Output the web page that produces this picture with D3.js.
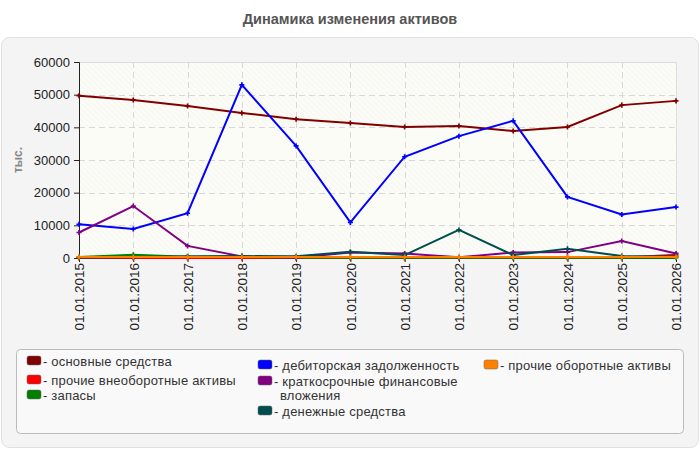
<!DOCTYPE html>
<html><head><meta charset="utf-8">
<script src="https://cdn.jsdelivr.net/npm/d3@7"></script>
<style>body{margin:0;background:#fff;font-family:"Liberation Sans",Arial,sans-serif}</style>
</head><body><svg id="c" width="700" height="450"></svg>
<script>
const years = ["01.01.2015","01.01.2016","01.01.2017","01.01.2018","01.01.2019","01.01.2020","01.01.2021","01.01.2022","01.01.2023","01.01.2024","01.01.2025","01.01.2026"];
const yTicks = [0,10000,20000,30000,40000,50000,60000];
const seriesNames = ["основные средства","прочие внеоборотные активы","запасы","дебиторская задолженность","краткосрочные финансовые вложения","денежные средства","прочие оборотные активы"];
const seriesColors = ["#800000","#ff0000","#008000","#0000ff","#800080","#004d4d","#ff8000"];
const osnovnye   = [49700,48400,46500,44400,42500,41300,40100,40400,38900,40100,46800,48100];
const prochieVne = [0,0,0,0,0,0,0,0,0,0,100,1000];
const zapasy     = [300,1000,400,300,100,100,100,100,100,100,100,100];
const debitor    = [10300,8900,13700,53000,34300,10900,31000,37300,42000,18700,13300,15600];
const kratkosr   = [7800,15900,3700,500,100,1700,1400,200,1700,1800,5200,1400];
const denezhnye  = [100,200,500,600,500,1900,900,8600,900,2800,600,500];
const prochieOb  = [300,300,300,300,300,300,300,300,300,300,300,300];
const seriesValues = [osnovnye,prochieVne,zapasy,debitor,kratkosr,denezhnye,prochieOb];

const svg = d3.select("#c");
svg.append("text").attr("x",350).attr("y",24).attr("text-anchor","middle")
  .attr("font-size",14.5).attr("font-weight","bold").attr("fill","#555").text("Динамика изменения активов");
svg.append("rect").attr("x",1.5).attr("y",37.5).attr("width",697).attr("height",410).attr("rx",8)
  .attr("fill","#f4f4f4").attr("stroke","#e0e0e0");

const L=79,R=676,T=62,B=258;
const x = d3.scalePoint().domain(years).range([L,R]);
const y = d3.scaleLinear().domain([0,60000]).range([B,T]);

const defs = svg.append("defs");
const pat = defs.append("pattern").attr("id","hatch").attr("patternUnits","userSpaceOnUse")
  .attr("width",4).attr("height",4).attr("patternTransform","rotate(-45)");
pat.append("rect").attr("width",4).attr("height",4).attr("fill","#fcfcf7");
pat.append("line").attr("x1",0).attr("y1",0).attr("x2",0).attr("y2",4).attr("stroke","#efefef").attr("stroke-width",1);

svg.append("rect").attr("x",L).attr("y",T).attr("width",R-L).attr("height",B-T).attr("fill","url(#hatch)");
[[30000,40000],[10000,20000]].forEach(b=>{
  svg.append("rect").attr("x",L).attr("y",y(b[1])).attr("width",R-L).attr("height",y(b[0])-y(b[1])).attr("fill","#fcfcf7").attr("opacity",0.7);
});
svg.append("path").attr("d",`M${L},${T+0.5}H${R+0.5}V${B}`).attr("fill","none").attr("stroke","#ddd");

const g = svg.append("g");
g.selectAll(".hg").data(yTicks.slice(1,-1)).enter().append("line")
  .attr("x1",L).attr("x2",R).attr("y1",d=>Math.round(y(d))+0.5).attr("y2",d=>Math.round(y(d))+0.5)
  .attr("stroke","#d8d8d8").attr("stroke-dasharray","6,4");
g.selectAll(".vg").data(years.slice(1,-1)).enter().append("line")
  .attr("y1",T).attr("y2",B).attr("x1",d=>Math.round(x(d))+0.5).attr("x2",d=>Math.round(x(d))+0.5)
  .attr("stroke","#d8d8d8").attr("stroke-dasharray","6,4");

const yAxis = svg.append("g").attr("transform",`translate(${L},0)`)
  .call(d3.axisLeft(y).tickValues(yTicks).tickSize(5).tickPadding(4).tickFormat(d3.format("d")));
yAxis.select(".domain").attr("stroke","#222");
yAxis.selectAll(".tick line").attr("stroke","#222");
yAxis.selectAll("text").attr("font-size",13).attr("fill","#222").attr("font-family","Liberation Sans, Arial, sans-serif");

const xAxis = svg.append("g").attr("transform",`translate(0,${B})`)
  .call(d3.axisBottom(x).tickSize(4).tickPadding(4));
xAxis.select(".domain").attr("stroke","#222");
xAxis.selectAll(".tick line").attr("stroke","#222");
xAxis.selectAll("text").attr("font-size",13.5).attr("fill","#222").attr("font-family","Liberation Sans, Arial, sans-serif")
  .attr("text-anchor","end").attr("transform","rotate(-90)").attr("x",-5).attr("y",0).attr("dy","0.35em");

svg.append("text").attr("transform","translate(22,160) rotate(-90)").attr("text-anchor","middle")
  .attr("font-size",12).attr("font-weight","bold").attr("fill","#888").text("тыс.");

const line = d3.line().x((d,i)=>x(years[i])).y(d=>y(d));
seriesValues.forEach((vals,k)=>{
  svg.append("path").datum(vals).attr("d",line).attr("fill","none")
    .attr("stroke",seriesColors[k]).attr("stroke-width",2);
  svg.append("g").selectAll("path").data(vals).enter().append("path")
    .attr("d",d3.symbol().type(d3.symbolCross).size(14))
    .attr("transform",(d,i)=>`translate(${x(years[i])},${y(d)})`)
    .attr("fill",seriesColors[k]);
});

svg.append("rect").attr("x",16.5).attr("y",349.5).attr("width",667).attr("height",84).attr("rx",4)
  .attr("fill","#f9f9f9").attr("stroke","#bbb");
const legPos = [[27,361],[27,380],[27,395],[258,365],[258,381],[258,411],[484,365]];
const legLines = [["основные средства"],["прочие внеоборотные активы"],["запасы"],["дебиторская задолженность"],["краткосрочные финансовые","вложения"],["денежные средства"],["прочие оборотные активы"]];
seriesNames.forEach((n,k)=>{
  const [lx,ly]=legPos[k];
  svg.append("rect").attr("x",lx).attr("y",ly-5).attr("width",14).attr("height",9).attr("rx",2)
    .attr("fill",seriesColors[k]).attr("stroke","#666").attr("stroke-width",0.5);
  const t = svg.append("text").attr("x",lx+16).attr("y",ly+4.5).attr("font-size",13).attr("letter-spacing",0.2).attr("fill","#333");
  legLines[k].forEach((s,j)=>{
    t.append("tspan").attr("x", j===0?lx+16:lx+22).attr("dy", j===0?0:14).text((j===0?"- ":"")+s);
  });
});
</script></body></html>
